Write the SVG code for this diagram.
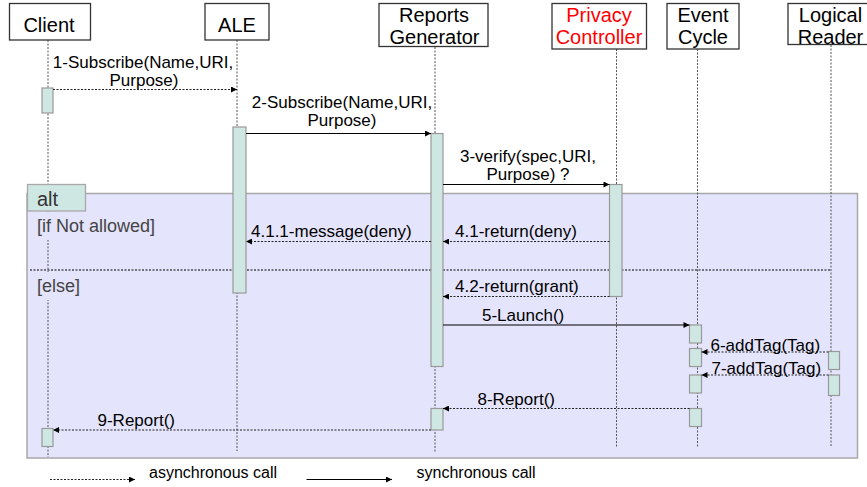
<svg xmlns="http://www.w3.org/2000/svg" width="867" height="487" viewBox="0 0 867 487">
  <defs>
    <style>
      text { font-family: "Liberation Sans", Arial, sans-serif; fill: #000; }
      .head { font-size: 20px; text-anchor: middle; }
      .red { fill: #ff0000; }
      .msg { font-size: 17px; }
      .guard { font-size: 18px; fill: #444; }
      .legend { font-size: 16px; }
      .box { fill: #fff; stroke: #333; stroke-width: 1.3; }
      .life { stroke: #555; stroke-width: 1; stroke-dasharray: 2 1.5; fill: none; }
      .act { fill: #cfe7e3; stroke: #999; stroke-width: 1.2; }
      .sync { stroke: #000; stroke-width: 1.2; fill: none; marker-end: url(#head); }
      .async { stroke: #222; stroke-width: 1; stroke-dasharray: 2 1.5; fill: none; marker-end: url(#head); }
    </style>
    <marker id="head" viewBox="0 0 8 8" refX="8" refY="4" markerWidth="7" markerHeight="6" markerUnits="userSpaceOnUse" orient="auto">
      <path d="M0,0 L8,4 L0,8 z" fill="#000"/>
    </marker>
  </defs>

  <rect width="867" height="487" fill="#fff"/>

  <!-- alt combined fragment -->
  <g id="alt-frame">
    <rect x="27" y="193.5" width="830.5" height="264.5" fill="#e4e4fc" stroke="#a8a8a8" stroke-width="1.5"/>
  </g>

  <!-- lifelines -->
  <g id="lifelines">
    <line class="life" x1="48" y1="40" x2="48" y2="457"/>
    <line class="life" x1="237" y1="40" x2="237" y2="451"/>
    <line class="life" x1="435" y1="47" x2="435" y2="452"/>
    <line class="life" x1="616.5" y1="49" x2="616.5" y2="448"/>
    <line class="life" x1="697.5" y1="49" x2="697.5" y2="447"/>
    <line class="life" x1="831" y1="45" x2="831" y2="446"/>
  </g>

  <!-- operand separator and guards -->
  <g id="alt-labels">
    <line x1="30" y1="270" x2="831" y2="270" stroke="#000" stroke-width="1" stroke-dasharray="2 1.5"/>
    <rect x="32" y="212" width="130" height="28" fill="#e4e4fc"/>
    <rect x="32" y="272" width="50" height="28" fill="#e4e4fc"/>
    <text class="guard" x="37" y="232">[if Not allowed]</text>
    <text class="guard" x="37" y="292">[else]</text>
    <rect x="27.5" y="184.5" width="58" height="26.5" fill="#cfe7e3" stroke="#a8a8a8" stroke-width="1.3"/>
    <text x="37" y="206" font-size="20" style="fill:#333">alt</text>
  </g>

  <!-- participants -->
  <g id="client">
    <rect class="box" x="9.5" y="3.5" width="81" height="36.5"/>
    <text class="head" x="49" y="32">Client</text>
  </g>
  <g id="ale">
    <rect class="box" x="205" y="3.5" width="64" height="36.5"/>
    <text class="head" x="237" y="32">ALE</text>
  </g>
  <g id="reports-generator">
    <rect class="box" x="379" y="3.5" width="109" height="43"/>
    <text class="head" x="434" y="22">Reports</text>
    <text class="head" x="434.5" y="44">Generator</text>
  </g>
  <g id="privacy-controller">
    <rect class="box" x="552" y="3.5" width="94.5" height="45.5"/>
    <text class="head red" x="599" y="22">Privacy</text>
    <text class="head red" x="599" y="44">Controller</text>
  </g>
  <g id="event-cycle">
    <rect class="box" x="667" y="3.5" width="72" height="45.5"/>
    <text class="head" x="703" y="22">Event</text>
    <text class="head" x="703" y="44">Cycle</text>
  </g>
  <g id="logical-reader">
    <rect class="box" x="788" y="3.5" width="90" height="41"/>
    <text class="head" x="830.5" y="22">Logical</text>
    <text class="head" x="830.5" y="44">Reader</text>
  </g>

  <!-- activation bars -->
  <g id="activations">
    <rect class="act" x="42" y="88" width="11" height="25"/>
    <rect class="act" x="233" y="127" width="13" height="166"/>
    <rect class="act" x="431" y="133.5" width="12" height="233"/>
    <rect class="act" x="609.5" y="184.5" width="12.5" height="112"/>
    <rect class="act" x="689.5" y="325" width="12" height="18"/>
    <rect class="act" x="689.5" y="348.5" width="12" height="18"/>
    <rect class="act" x="689.5" y="375" width="12" height="18"/>
    <rect class="act" x="689.5" y="408.5" width="12" height="18"/>
    <rect class="act" x="828.5" y="351.5" width="11" height="18"/>
    <rect class="act" x="828.5" y="375" width="11" height="20.5"/>
    <rect class="act" x="431" y="408.5" width="12" height="21.5"/>
    <rect class="act" x="42" y="428.5" width="11" height="18"/>
  </g>

  <!-- messages -->
  <g id="connectors">
    <line class="async" x1="53" y1="89.5" x2="237" y2="89.5"/>
    <line class="sync" x1="246" y1="133.5" x2="431" y2="133.5"/>
    <line class="sync" x1="443" y1="184.5" x2="609.5" y2="184.5"/>
    <line class="async" x1="431" y1="241.5" x2="246" y2="241.5"/>
    <line class="async" x1="609.5" y1="241.5" x2="443" y2="241.5"/>
    <line class="async" x1="609.5" y1="296.5" x2="443" y2="296.5"/>
    <line class="sync" x1="443" y1="325" x2="689.5" y2="325"/>
    <line class="async" x1="828.5" y1="352" x2="701.5" y2="352"/>
    <line class="async" x1="828.5" y1="375" x2="701.5" y2="375"/>
    <line class="async" x1="689.5" y1="408.5" x2="443" y2="408.5"/>
    <line class="async" x1="431" y1="430" x2="53" y2="430"/>
  </g>

  <!-- message labels -->
  <g id="message-labels">
    <text class="msg" x="143" y="68" text-anchor="middle">1-Subscribe(Name,URI,</text>
    <text class="msg" x="144" y="86" text-anchor="middle">Purpose)</text>
    <text class="msg" x="342" y="108" text-anchor="middle">2-Subscribe(Name,URI,</text>
    <text class="msg" x="342" y="126" text-anchor="middle">Purpose)</text>
    <text class="msg" x="528" y="162" text-anchor="middle">3-verify(spec,URI,</text>
    <text class="msg" x="528" y="180" text-anchor="middle">Purpose) ?</text>
    <text class="msg" x="251" y="237">4.1.1-message(deny)</text>
    <text class="msg" x="455" y="237">4.1-return(deny)</text>
    <text class="msg" x="455" y="292">4.2-return(grant)</text>
    <text class="msg" x="482" y="321">5-Launch()</text>
    <text class="msg" x="710.5" y="350.5">6-addTag(Tag)</text>
    <text class="msg" x="711.5" y="374">7-addTag(Tag)</text>
    <text class="msg" x="477.5" y="404.5">8-Report()</text>
    <text class="msg" x="97.5" y="426">9-Report()</text>
  </g>

  <!-- legend -->
  <g id="legend">
    <line class="async" x1="50" y1="479.5" x2="135" y2="479.5"/>
    <text class="legend" x="149" y="478">asynchronous call</text>
    <line class="sync" x1="306.5" y1="479.5" x2="392" y2="479.5"/>
    <text class="legend" x="416.5" y="478">synchronous call</text>
  </g>
</svg>
